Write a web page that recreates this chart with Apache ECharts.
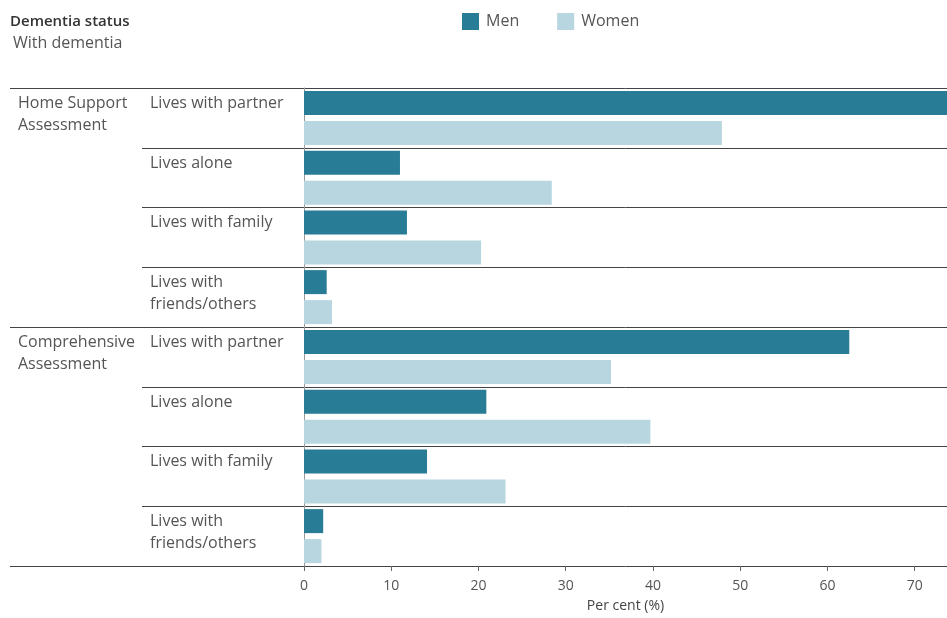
<!DOCTYPE html>
<html><head><meta charset="utf-8">
<script src="https://cdn.jsdelivr.net/npm/echarts@6/dist/echarts.min.js"></script>
<style>html,body{margin:0;padding:0;background:#fff}#c{width:947px;height:618px}</style>
</head><body><div id="c"></div>
<script>
const categories = ['Lives with partner','Lives alone','Lives with family','Lives with\nfriends/others',
                    'Lives with partner','Lives alone','Lives with family','Lives with\nfriends/others'];
const groups = ['Home Support\nAssessment','Comprehensive\nAssessment'];
const groupStarts = [0, 4];
const men   = [76.0, 11.0, 11.8, 2.6, 62.5, 20.9, 14.1, 2.2];
const women = [47.9, 28.4, 20.3, 3.2, 35.2, 39.7, 23.1, 2.0];
const xTicks = [0,10,20,30,40,50,60,70];
const FONT = '"Open Sans", sans-serif';
const chart = echarts.init(document.getElementById('c'), null, {renderer:'canvas'});
function lbl(s){ const p = s.split('\n'); if (p.length < 2) p.push(''); return p.map(t => '{a|' + t + '}').join('\n'); }
chart.setOption({
  animation:false,
  textStyle:{fontFamily:FONT},
  title:[
    {text:'Dementia status', left:5, top:9, textStyle:{fontSize:15, fontWeight:600, color:'#333', fontFamily:FONT}},
    {text:'With dementia', left:8, top:30, textStyle:{fontSize:16, fontWeight:'normal', color:'#555', fontFamily:FONT}}
  ],
  legend:{left:457, top:8, itemWidth:17, itemHeight:17, itemGap:38, icon:'rect',
    textStyle:{fontSize:16, color:'#555', fontFamily:FONT, padding:[0,0,0,2]}, data:['Men','Women']},
  grid:{left:304, right:0, top:88, bottom:47, containLabel:false},
  xAxis:{type:'value', min:0, max:73.7, interval:10,
    axisLine:{show:false},
    axisTick:{show:true, length:5, lineStyle:{color:'#666'}},
    splitLine:{show:false},
    axisLabel:{color:'#555', fontSize:14, margin:13, fontFamily:FONT,
      formatter:function(v){ return xTicks.indexOf(v) >= 0 ? String(v) : ''; }, showMaxLabel:false},
    name:'Per cent (%)', nameLocation:'middle', nameGap:33,
    nameTextStyle:{color:'#444', fontSize:14, fontFamily:FONT}
  },
  yAxis:[
    {type:'category', inverse:true, data:categories,
      axisLine:{show:true, lineStyle:{color:'#999'}},
      axisTick:{show:true, length:162, interval:0, lineStyle:{color:'#444'}},
      splitLine:{show:true, interval:0, lineStyle:{color:'#444'}},
      axisLabel:{interval:0, align:'left', margin:154, padding:[0,0,7,0],
        formatter:function(v,i){ return lbl(categories[i]); },
        rich:{a:{fontSize:16, lineHeight:22, color:'#555', fontFamily:FONT}}}
    },
    {type:'category', inverse:true, data:categories, position:'left',
      axisLine:{show:false},
      axisTick:{show:true, length:294, interval:function(i){ return i % 4 === 0; }, lineStyle:{color:'#444'}},
      splitLine:{show:false},
      axisLabel:{interval:0, align:'left', margin:286, padding:[0,0,7,0],
        formatter:function(v,i){ const g = groupStarts.indexOf(i); return g >= 0 ? lbl(groups[g]) : ''; },
        rich:{a:{fontSize:16, lineHeight:22, color:'#555', fontFamily:FONT}}}
    }
  ],
  series:[
    {name:'Men', type:'bar', data:men, barWidth:24, barGap:'25%', itemStyle:{color:'#297c95'}, clip:true},
    {name:'Women', type:'bar', data:women, barWidth:24, barGap:'25%', itemStyle:{color:'#b7d6df'}, clip:true}
  ]
});
</script></body></html>
